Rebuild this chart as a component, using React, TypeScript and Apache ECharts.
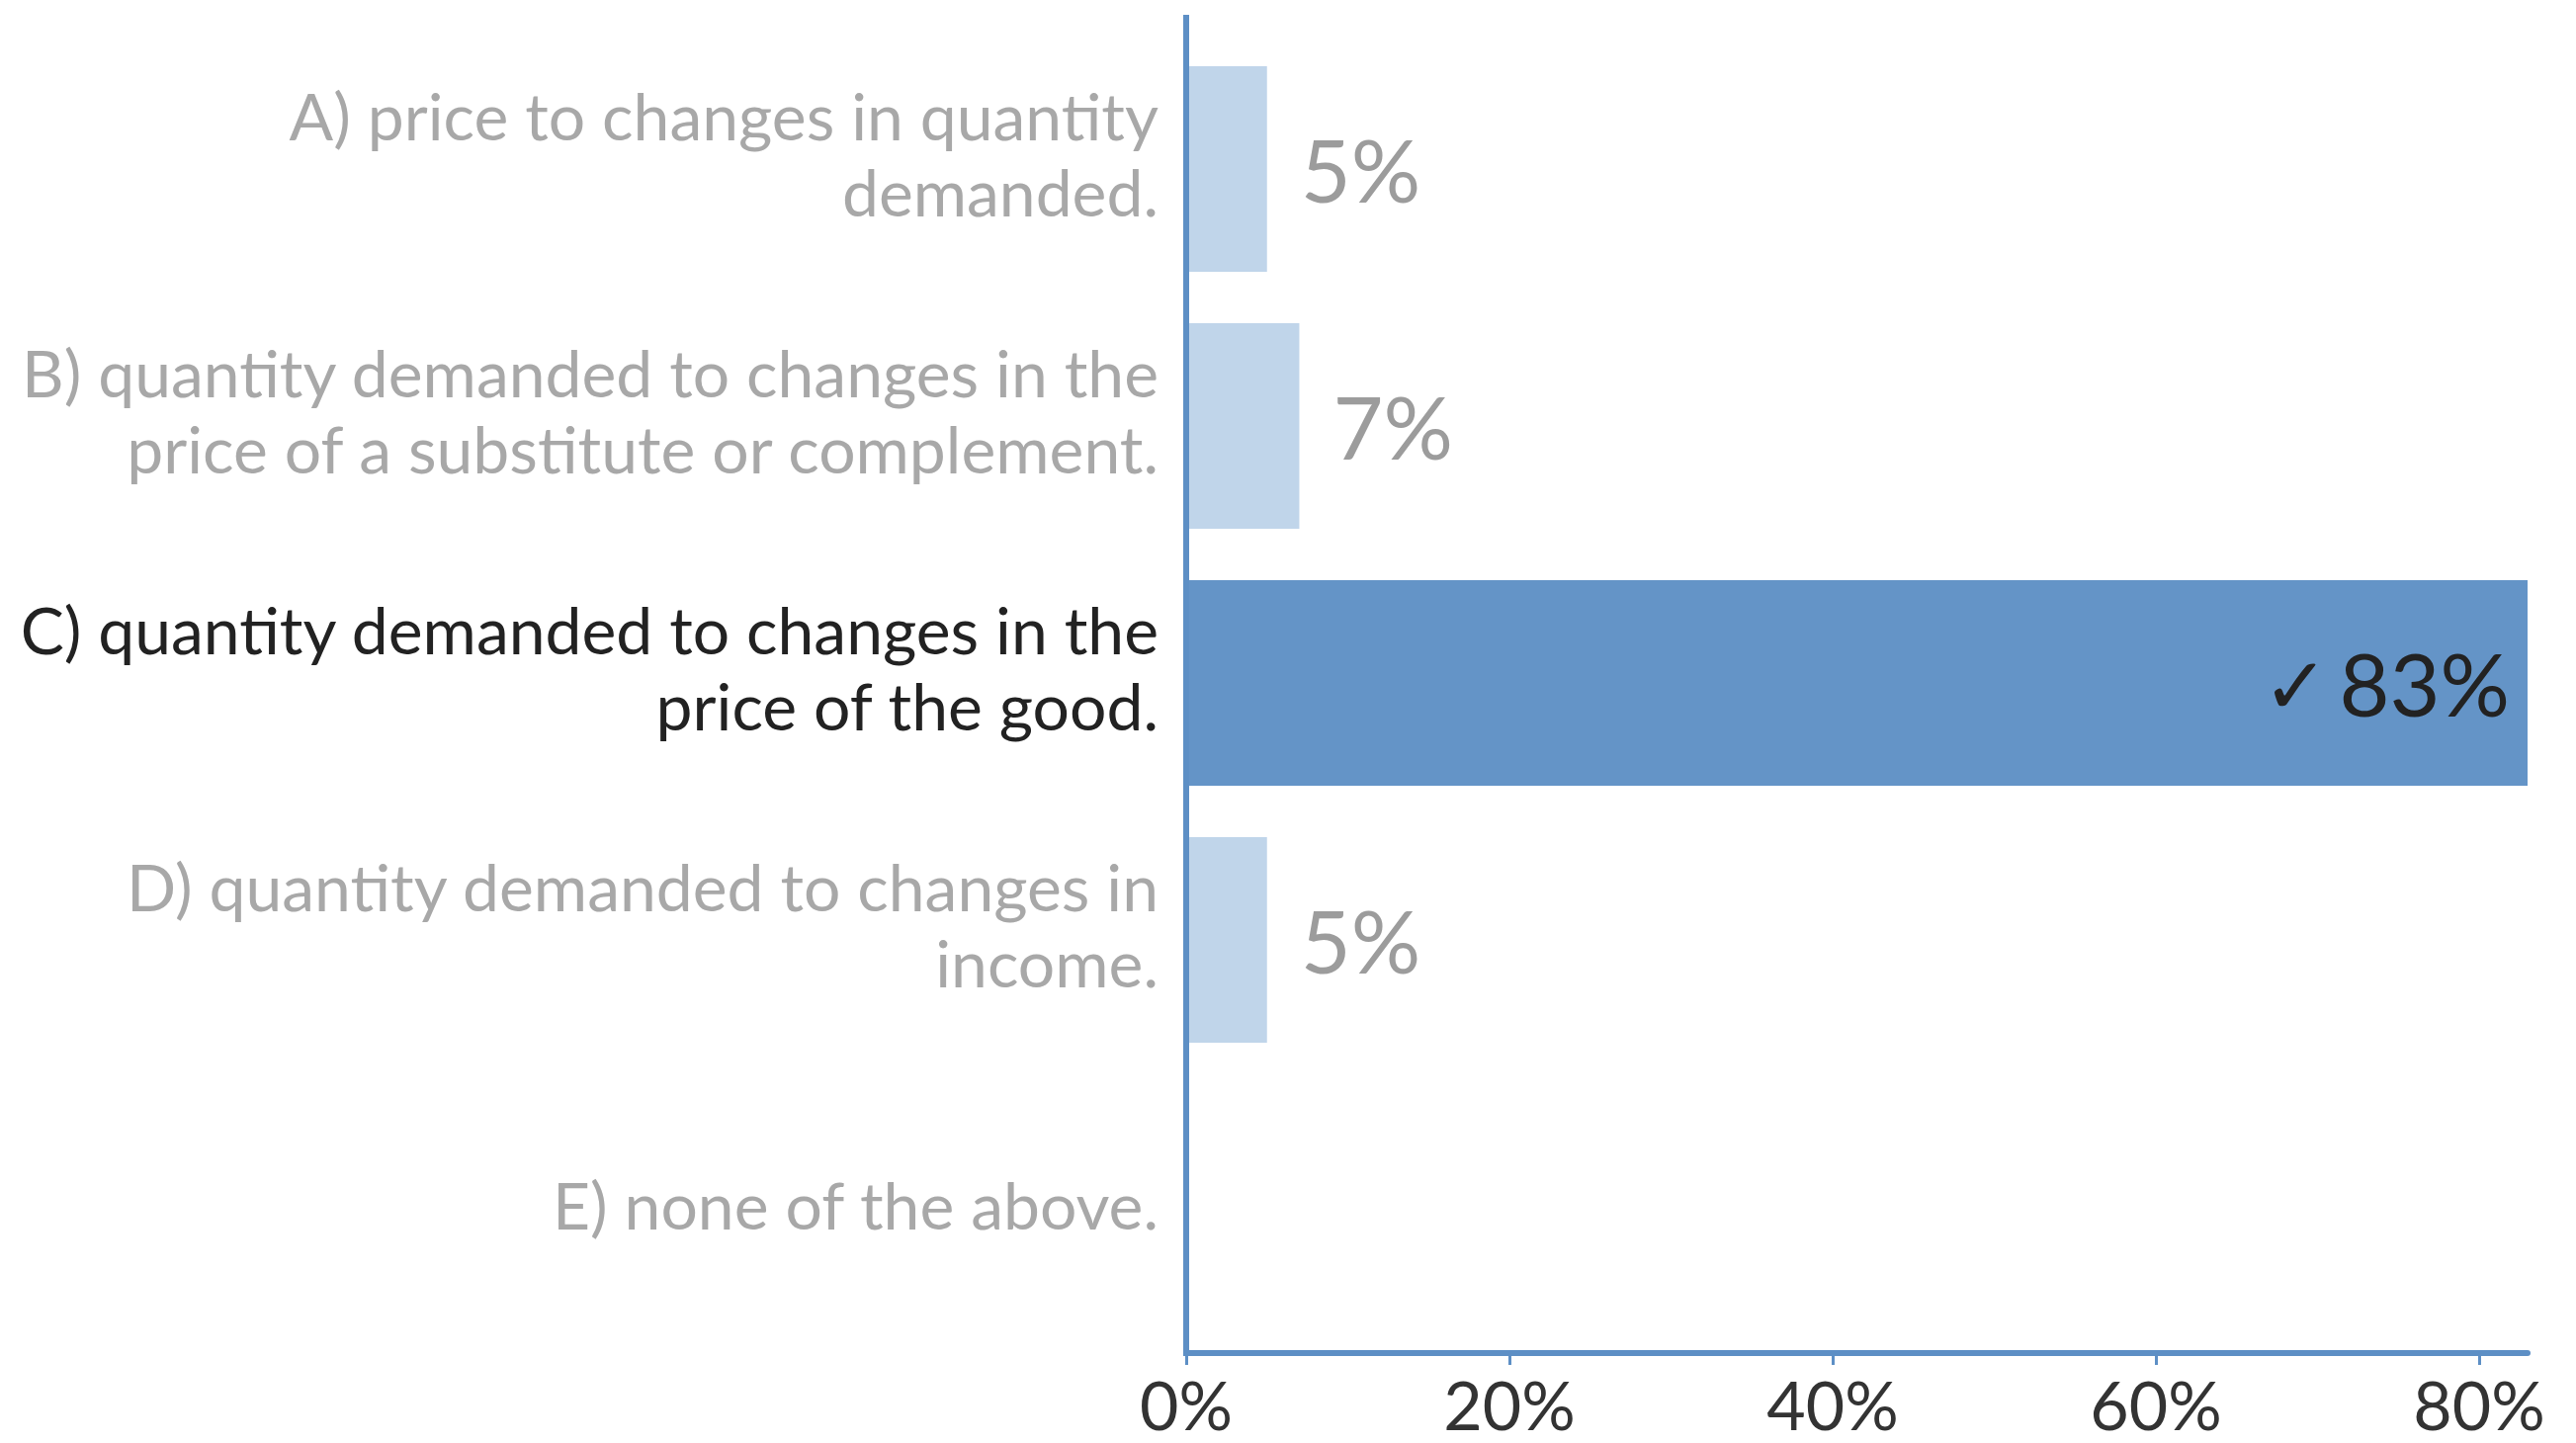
import { useEffect, useRef } from "react";
import * as echarts from "echarts";

const categories = [
  "A) price to changes in quantity\ndemanded.",
  "B) quantity demanded to changes in the\nprice of a substitute or complement.",
  "C) quantity demanded to changes in the\nprice of the good.",
  "D) quantity demanded to changes in\nincome.",
  "E) none of the above.",
];
const percentages = [5, 7, 83, 5, 0];
const correctIndex = 2;
const axisMax = 83;
const tickStep = 20;

const FONT = "Lato";
const AXIS_BLUE = "#5d8fc5";
const LIGHT_BAR = "#c0d5ea";
const DARK_BAR = "#6494c7";
const MUTED_TEXT = "#a8a8a8";
const MUTED_VALUE = "#9c9c9c";
const DARK_TEXT = "#222222";

export default function App() {
  const ref = useRef<HTMLDivElement>(null);
  useEffect(() => {
    if (!ref.current) return;
    const chart = echarts.init(ref.current, undefined, { renderer: "svg" });
    const gridLeft = 1200;
    const gridTop = 41;
    const gridHeight = 1300;
    const gridRight = 49;
    const labelBase = { fontFamily: FONT, fontSize: 66, lineHeight: 77, align: "right" };
    chart.setOption({
      animation: false,
      backgroundColor: "#ffffff",
      grid: { left: gridLeft, top: gridTop, height: gridHeight, right: gridRight, containLabel: false },
      xAxis: {
        type: "value",
        min: 0,
        max: axisMax,
        interval: tickStep,
        offset: 28,
        axisLine: { show: true, lineStyle: { color: AXIS_BLUE, width: 6 } },
        axisTick: { show: true, length: 12, lineStyle: { color: AXIS_BLUE, width: 3 } },
        splitLine: { show: false },
        axisLabel: {
          formatter: (v: number) => `${v}%`,
          color: "#333333",
          fontFamily: FONT,
          fontSize: 68,
          lineHeight: 54,
          margin: 24,
          showMaxLabel: false,
        },
      },
      yAxis: {
        type: "category",
        inverse: true,
        data: categories,
        axisLine: { show: false },
        axisTick: { show: false },
        axisLabel: {
          ...labelBase,
          margin: 28,
          formatter: (value: string, index: number) => {
            const s = index === correctIndex ? "dk" : "mt";
            const lines = value.split("\n");
            const body = lines.map((l) => `{${s}|${l}}`).join("\n");
            return lines.length > 1 ? `${body}\n{gapB| }` : `{gapT| }\n${body}`;
          },
          rich: {
            mt: { ...labelBase, color: MUTED_TEXT },
            dk: { ...labelBase, color: DARK_TEXT },
            gapB: { fontSize: 2, lineHeight: 33, align: "right" },
            gapT: { fontSize: 2, lineHeight: 14, align: "right" },
          },
        },
      },
      graphic: [
        {
          type: "line",
          shape: { x1: gridLeft, y1: 15, x2: gridLeft, y2: gridTop + gridHeight + 31 },
          style: { stroke: AXIS_BLUE, lineWidth: 6 },
          z: 10,
        },
      ],
      series: [
        {
          type: "bar",
          barCategoryGap: "20%",
          data: percentages.map((v, i) => {
            const correct = i === correctIndex;
            return {
              value: v,
              itemStyle: { color: correct ? DARK_BAR : LIGHT_BAR },
              label: correct
                ? {
                    show: true,
                    position: "insideRight",
                    distance: 18,
                    color: DARK_TEXT,
                    formatter: (p: any) => `{ck|✓}{v|${p.value}%}`,
                    rich: {
                      ck: { fontSize: 80, color: DARK_TEXT, padding: [0, 10, 0, 0] },
                      v: { fontFamily: FONT, fontSize: 88, color: DARK_TEXT },
                    },
                  }
                : {
                    show: v > 0,
                    position: "right",
                    distance: 34,
                    color: MUTED_VALUE,
                    formatter: (p: any) => `${p.value}%`,
                  },
            };
          }),
          label: { fontFamily: FONT, fontSize: 88 },
        },
      ],
    });
    return () => chart.dispose();
  }, []);
  return (
    <div
      ref={ref}
      style={{ position: "fixed", left: 0, top: 0, width: 2606, height: 1460 }}
    />
  );
}
